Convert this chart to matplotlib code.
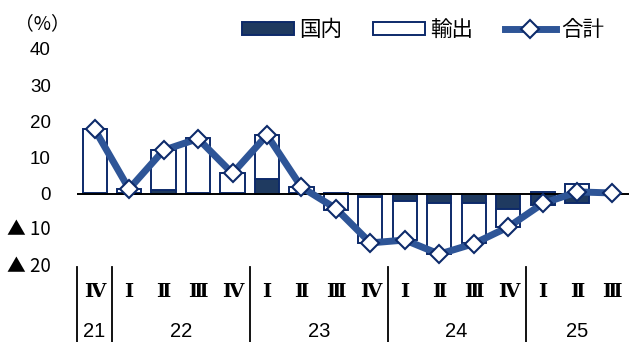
import numpy as np
import matplotlib
matplotlib.use("Agg")
import matplotlib.pyplot as plt
from matplotlib.transforms import blended_transform_factory

# Contributions to the year-on-year change (%), quarterly
quarters = ['Ⅳ', 'Ⅰ', 'Ⅱ', 'Ⅲ', 'Ⅳ', 'Ⅰ', 'Ⅱ', 'Ⅲ', 'Ⅳ',
            'Ⅰ', 'Ⅱ', 'Ⅲ', 'Ⅳ', 'Ⅰ', 'Ⅱ', 'Ⅲ']
years = ['21', '22', '23', '24', '25']
year_quarter_counts = [1, 4, 4, 4, 3]

domestic = [0.2, 0.2, 1.0, 0.3, 0.3, 4.0, 0.2, 0.3, -1.0, -2.0,
            -2.7, -2.7, -4.1, -3.2, -2.5, np.nan]
export = [17.6, 1.2, 11.0, 15.0, 5.4, 12.1, 1.7, -4.6, -12.5, -10.8,
          -14.0, -11.0, -5.0, 0.5, 2.8, np.nan]
total = [17.8, 1.3, 12.0, 15.2, 5.6, 16.2, 1.8, -4.1, -13.6, -12.8,
         -16.7, -13.8, -9.2, -2.7, 0.5, 0.2]

yticks = [-20, -10, 0, 10, 20, 30, 40]
ytick_labels = ['▲ 20', '▲ 10', '0', '10', '20', '30', '40']

navy = '#1F3A60'
edge = '#0D2A6A'
line_blue = '#2E5597'

plt.rcParams['font.family'] = ['Liberation Sans', 'Noto Sans CJK JP']
cjk = ['Noto Sans CJK JP', 'DejaVu Sans']

fig = plt.figure(figsize=(6.29, 3.42), dpi=100)
ax = fig.add_axes([0.123, 0.222, 0.877, 0.635])

x = np.arange(len(quarters))
dom = np.nan_to_num(np.array(domestic, dtype=float))
exp_ = np.nan_to_num(np.array(export, dtype=float))
has_bar = ~np.isnan(np.array(domestic, dtype=float))

# stack positive and negative parts separately
dom_bottom = np.zeros_like(dom)
exp_bottom = np.where(np.sign(exp_) == np.sign(dom), dom, 0.0)

w = 0.7
b_dom = ax.bar(x[has_bar], dom[has_bar], w, bottom=dom_bottom[has_bar],
               color=navy, edgecolor=edge, linewidth=1.4, zorder=2,
               label='国内')
b_exp = ax.bar(x[has_bar], exp_[has_bar], w, bottom=exp_bottom[has_bar],
               color='white', edgecolor=edge, linewidth=1.4, zorder=2,
               label='輸出')
ax.axhline(0, color='black', lw=1.4, zorder=3)
ln, = ax.plot(x, total, color=line_blue, lw=5, marker='D', markersize=9,
              markerfacecolor='white', markeredgecolor=edge,
              markeredgewidth=1.5, zorder=4, label='合計')

ax.set_xlim(-0.5, len(quarters) - 0.5)
ax.set_ylim(-20, 40)
ax.set_yticks(yticks)
ax.set_yticklabels(ytick_labels, fontsize=13.5)
ax.tick_params(axis='y', length=0, pad=19)
# negative labels use the full-width triangle of the CJK face
for lab in ax.get_yticklabels():
    if lab.get_text().startswith('▲'):
        lab.set_family(['Noto Sans CJK JP'])
        lab.set_fontsize(13.5)
        lab.set_verticalalignment('center')
ax.set_xticks([])
for s in ax.spines.values():
    s.set_visible(False)

# two-level category axis
tr = blended_transform_factory(ax.transData, ax.transAxes)
for xi, q in zip(x, quarters):
    ax.text(xi, -0.12, q, transform=tr, ha='center', va='center',
            fontsize=14, fontweight='bold',
            family=['DejaVu Serif', 'Noto Sans CJK JP'])
start = 0
bounds = [-0.5]
for yr, n in zip(years, year_quarter_counts):
    center = start + (n - 1) / 2
    ax.text(center, -0.30, yr, transform=tr, ha='center', va='center',
            fontsize=14.5)
    start += n
    bounds.append(start - 0.5)
for b in bounds[:-1]:
    ax.plot([b, b], [-0.005, -0.36], transform=tr, color='black', lw=1.3,
            clip_on=False)

fig.text(0.068, 0.932, '（%）', fontsize=13.5, ha='center', va='center',
         family=cjk)

fig.legend([b_dom, b_exp, ln], ['国内', '輸出', '合計'],
           loc='center', bbox_to_anchor=(0.673, 0.912), ncol=3,
           frameon=False, prop={'family': cjk, 'size': 15.5},
           handlelength=2.4, handleheight=0.55, columnspacing=1.45,
           handletextpad=0.25, borderaxespad=0)

fig.savefig('out.png', dpi=100)
